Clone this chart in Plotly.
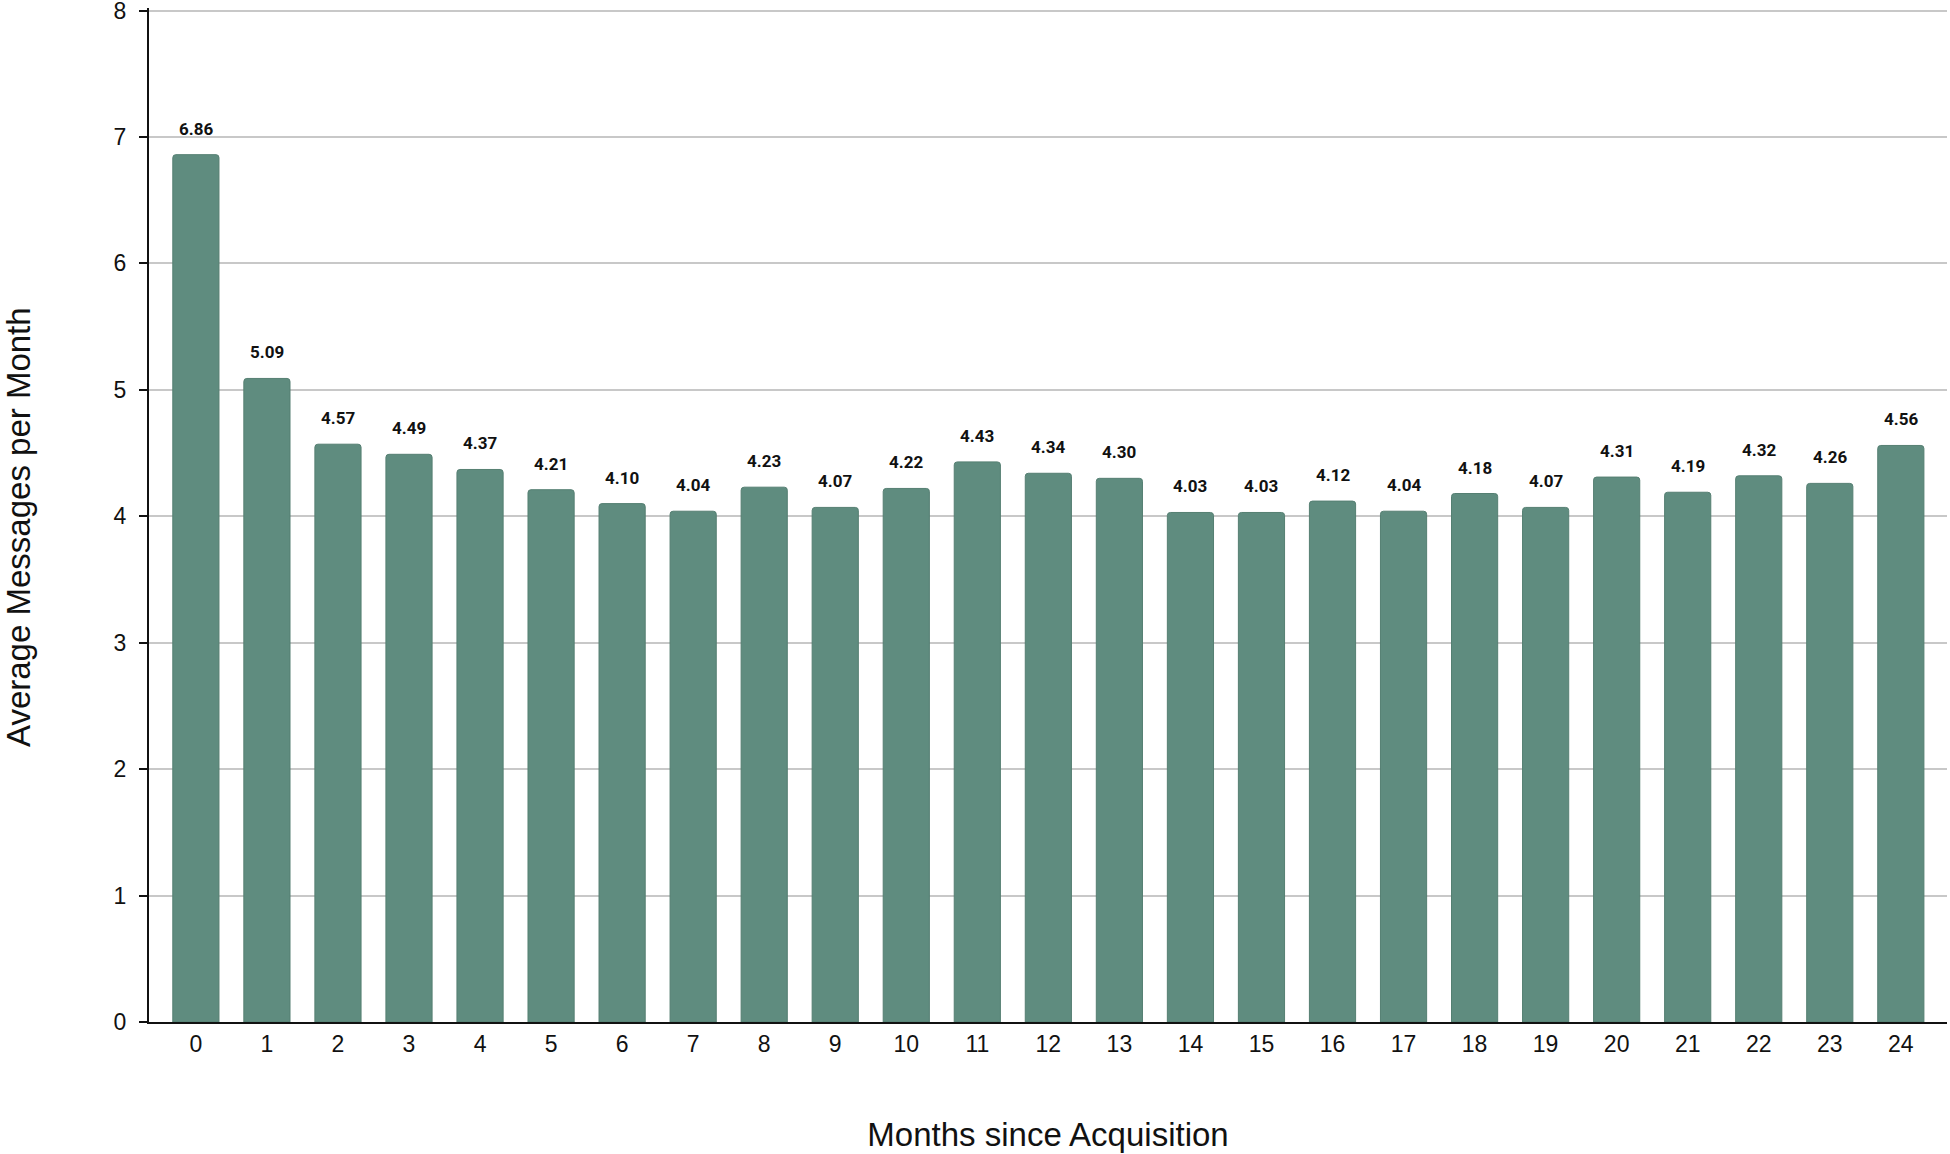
import plotly.graph_objects as go

months = list(range(25))
tick_labels = [str(m) for m in months]
avg_messages = [6.86, 5.09, 4.57, 4.49, 4.37, 4.21, 4.10, 4.04, 4.23, 4.07,
                4.22, 4.43, 4.34, 4.30, 4.03, 4.03, 4.12, 4.04, 4.18, 4.07,
                4.31, 4.19, 4.32, 4.26, 4.56]

BAR_COLOR = "#5f8c7f"
BAR_LINE = "#557f72"

fig = go.Figure()
fig.add_trace(go.Bar(
    x=months, y=avg_messages,
    marker=dict(color=BAR_COLOR, line=dict(color=BAR_LINE, width=1), cornerradius=3),
    width=0.65,
    hoverinfo="x+y",
))

for m, v in zip(months, avg_messages):
    fig.add_annotation(
        x=m, y=v, text=f"<b>{v:.2f}</b>", showarrow=False,
        yanchor="middle", yshift=26,
        font=dict(family="Roboto, Arial, sans-serif", size=17, color="#111111"),
    )

AX_FONT = "Liberation Sans, Arial, Helvetica, sans-serif"

# y-axis title as a rotated annotation (slightly below plot centre as in reference)
fig.add_annotation(
    xref="paper", yref="paper", x=0, y=0.5,
    xanchor="center", yanchor="middle", xshift=-131, yshift=-12,
    text="Average Messages per Month", textangle=-90, showarrow=False,
    font=dict(family=AX_FONT, size=33, color="#111111"),
)

fig.update_layout(
    width=1950, height=1154,
    margin=dict(l=149, r=3, t=8, b=132),
    paper_bgcolor="white", plot_bgcolor="white",
    showlegend=False,
    font=dict(family=AX_FONT, color="#111111"),
    xaxis=dict(
        range=[-0.66, 24.65],
        tickmode="array", tickvals=months, ticktext=tick_labels,
        showline=True, linecolor="#111111", linewidth=2,
        ticks="", showgrid=False, zeroline=False,
        tickfont=dict(family=AX_FONT, size=23, color="#111111"),
        title=dict(text="Months since Acquisition", standoff=67,
                   font=dict(family=AX_FONT, size=33, color="#111111")),
        automargin=False,
    ),
    yaxis=dict(
        range=[0, 8.02], tickmode="array", tickvals=list(range(9)),
        showline=True, linecolor="#111111", linewidth=2,
        ticks="outside", ticklen=8, tickwidth=2, tickcolor="#111111",
        ticklabelstandoff=8, ticklabeloverflow="allow",
        showgrid=True, gridcolor="#c8c8c8", gridwidth=1.5,
        zeroline=False,
        tickfont=dict(family=AX_FONT, size=23, color="#111111"),
        automargin=False,
    ),
)

fig.write_html("out.html", config={"displayModeBar": False},
               post_script="document.body.style.margin='0';")
